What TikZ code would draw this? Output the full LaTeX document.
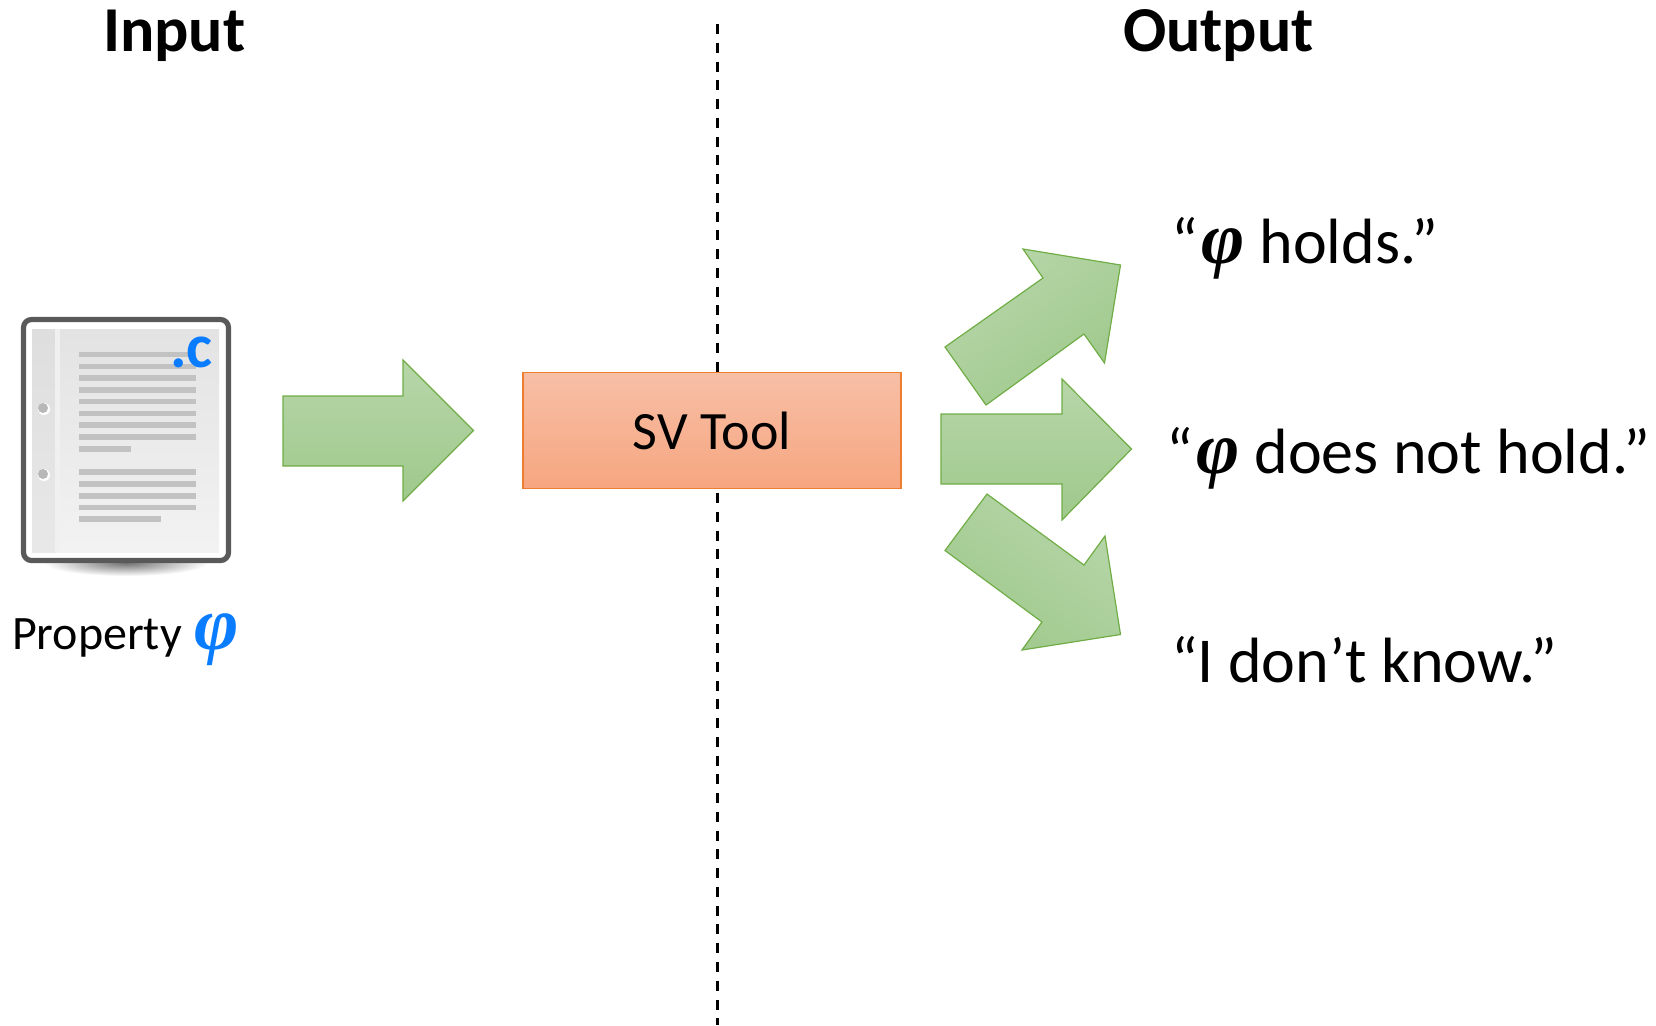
\documentclass[tikz,border=0pt]{standalone}
\usepackage{fontspec}
\setmainfont{Carlito}
\newfontfamily\phifont{Liberation Serif}
\usetikzlibrary{shadings}
\definecolor{gTop}{HTML}{B7D6A9}
\definecolor{gBot}{HTML}{9FC98C}
\definecolor{gLine}{HTML}{70AD47}
\definecolor{oTop}{HTML}{F7BFA6}
\definecolor{oBot}{HTML}{F6A680}
\definecolor{oLine}{HTML}{ED7D31}
\definecolor{blueC}{HTML}{0A7CFF}
\definecolor{barC}{HTML}{C2C2C2}
\newcommand{\phisym}[1]{{\fontsize{#1}{#1}\phifont\bfseries\itshape φ}}
\newcommand{\fs}[1]{\fontsize{#1}{#1}\selectfont}
\tikzset{
  blockarrow/.style={draw=gLine,line width=0.6pt,top color=gTop,bottom color=gBot,line join=miter},
  txt/.style={anchor=base west,inner sep=0pt,outer sep=0pt,text=black},
  bar/.style={fill=barC,draw=none},
}
\begin{document}
\begin{tikzpicture}[x=0.5pt,y=-0.5pt]
\useasboundingbox (0,0) rectangle (1656,1025);
% dashed divider
\coordinate (divT) at (717,24);
\coordinate (divB) at (717,1025);
\draw[black,line width=1.5pt,dash pattern=on 5pt off 4.38pt] (divT) -- (divB);
% tool box
\fill[white] (519,372) rectangle (905,492);
\node[draw=oLine,line width=0.6pt,top color=oTop,bottom color=oBot,minimum width=189pt,minimum height=58pt,inner sep=0pt,font=\fs{27}] (tool) at (712,430.5) {SV Tool};
% headings
\node[txt,font=\fs{32}\bfseries] (input) at (103,51) {Input};
\node[txt,font=\fs{32}\bfseries] (output) at (1123,51) {Output};
% document icon
\shade[inner color=black!55,outer color=white] (126,563) ellipse [x radius=82,y radius=13];
\draw[draw=black!65,line width=2.6pt,fill=white,rounded corners=4pt] (23.5,319.5) rectangle (228.5,560.5);
\shade[top color=black!11,bottom color=black!5] (32,329) rectangle (219,552);
\shade[top color=black!13,bottom color=black!9] (32,329) rectangle (55,552);
\fill[black!6] (55,329) rectangle (60,552);
\foreach \yy in {351.5,363.5,375,387,398.5,410.5,422,434,469,481,493,504.5}
  \fill[bar] (79,\yy) rectangle (196,\yy+5.5);
\fill[bar] (79,446) rectangle (131,451.5);
\fill[bar] (79,516) rectangle (161,521.5);
\foreach \yy in {408,474}{
  \fill[white] (44,\yy+1) circle (6);
  \fill[black!28] (43,\yy) circle (5);
}
\node[txt,font=\fs{31}\bfseries,text=blueC] (ext) at (170,367) {.c};
\node[txt,font=\fs{24}] (prop) at (12,649) {Property\hspace{1pt} {\color{blueC}\phisym{38}}};
% arrows
\path[blockarrow] (283,396) -- (403,396) -- (403,360) -- (473.5,430.5) -- (403,501) -- (403,466) -- (283,466) -- cycle;
\path[blockarrow] (941,414) -- (1062,414) -- (1062,379) -- (1131.5,449) -- (1062,520) -- (1062,484) -- (941,484) -- cycle;
\path[blockarrow,shading angle=36] (1023,249) -- (1120.5,265) -- (1104.5,363) -- (1084,334) -- (986,405) -- (945,347) -- (1043,278) -- cycle;
\path[blockarrow,shading angle=-36] (987,494) -- (1084,565) -- (1105,536) -- (1120.5,634.5) -- (1022,650) -- (1042,622) -- (945,550.5) -- cycle;
% outputs
\node[txt,font=\fs{32}] (o1) at (1171,263) {“\hspace{2pt}\phisym{37}\ holds.”};
\node[txt,font=\fs{32}] (o2) at (1166,473) {“\hspace{2pt}\phisym{37}\ does not hold.”};
\node[txt,font=\fs{32}] (o3) at (1171,682) {“I don’t know.”};
\end{tikzpicture}
\end{document}
